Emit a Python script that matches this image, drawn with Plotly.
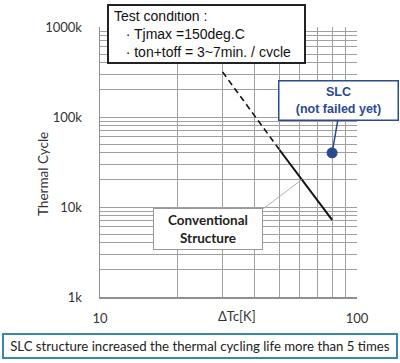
import math
import plotly.graph_objects as go

# ---- data ----
conv_dashed_dtc = [30, 50]
conv_dashed_cycles = [316000, 43000]
conv_solid_dtc = [50, 80]
conv_solid_cycles = [43000, 7200]
slc_dtc = [80]
slc_cycles = [40000]

x_grid_vals = [10, 20, 30, 40, 50, 60, 70, 80, 90, 100]
x_tick_text = ["10", "", "", "", "", "", "", "", "", "100"]
y_grid_vals = [1000 * m * 10 ** d for d in range(3) for m in range(1, 10)] + [1000000]
y_major = {1000: "1k", 10000: "10k", 100000: "100k", 1000000: "1000k"}
y_tick_text = [y_major.get(v, "") for v in y_grid_vals]

X_RANGE = (1, 2)
Y_RANGE = (3, 6)

def px(v):
    return (math.log10(v) - X_RANGE[0]) / (X_RANGE[1] - X_RANGE[0])

def py(v):
    return (math.log10(v) - Y_RANGE[0]) / (Y_RANGE[1] - Y_RANGE[0])

W, H = 400, 363
ML, MR, MT, MB = 100, 43, 27, 66
PW, PH = W - ML - MR, H - MT - MB

def paper_x(pix):
    return (pix - ML) / PW

def paper_y(pix):
    return (H - MB - pix) / PH

fig = go.Figure()
fig.add_trace(go.Scatter(x=conv_dashed_dtc, y=conv_dashed_cycles, mode="lines",
                         line=dict(color="#111111", width=1.6, dash="6px,4px"),
                         hoverinfo="skip", showlegend=False))
fig.add_trace(go.Scatter(x=conv_solid_dtc, y=conv_solid_cycles, mode="lines",
                         line=dict(color="#111111", width=2),
                         hoverinfo="skip", showlegend=False))
fig.add_trace(go.Scatter(x=slc_dtc, y=slc_cycles, mode="markers",
                         marker=dict(color="#2b4a8f", size=11),
                         hoverinfo="skip", showlegend=False))

# point on conventional line at dTc = 61 for connector
conn_dtc = 61
slope = math.log10(conv_solid_cycles[1] / conv_solid_cycles[0]) / math.log10(conv_solid_dtc[1] / conv_solid_dtc[0])
conn_cyc = conv_solid_cycles[0] * (conn_dtc / conv_solid_dtc[0]) ** slope

shapes = [
    dict(type="line", xref="paper", yref="paper",
         x0=paper_x(263), y0=paper_y(209), x1=px(conn_dtc), y1=py(conn_cyc),
         line=dict(color="#b0b0b0", width=1)),
    dict(type="line", xref="paper", yref="paper",
         x0=paper_x(338), y0=paper_y(119), x1=px(slc_dtc[0]), y1=py(slc_cycles[0]),
         line=dict(color="#2b4a8f", width=1.5)),
]

annotations = [
    dict(xref="paper", yref="paper", x=paper_x(107), y=paper_y(4), xanchor="left", yanchor="top",
         text="Test condition :<br>\u00a0\u00a0\u00a0\u00b7 Tjmax =150deg.C<br>\u00a0\u00a0\u00a0\u00b7 ton+toff = 3~7min. / cycle",
         align="left", showarrow=False, font=dict(family="Liberation Sans, Arial", size=14, color="#111111"),
         bgcolor="white", bordercolor="#222222", borderwidth=2, borderpad=5, width=185, height=46),
    dict(xref="paper", yref="paper", x=paper_x(208), y=paper_y(229), xanchor="center", yanchor="middle",
         text="<b>Conventional</b><br><b>Structure</b>", showarrow=False,
         font=dict(family="Lato, Open Sans", size=13.5, color="#222222"),
         bgcolor="white", bordercolor="#999999", borderwidth=1, borderpad=2, width=104, height=36),
    dict(xref="paper", yref="paper", x=paper_x(338), y=paper_y(100), xanchor="center", yanchor="middle",
         text="<b>SLC</b><br><b>(not failed yet)</b>", showarrow=False,
         font=dict(family="Liberation Sans, Arial", size=12.5, color="#2b4a8f"),
         bgcolor="white", bordercolor="#2b4a8f", borderwidth=1.5, borderpad=2, width=114, height=34),
    dict(xref="paper", yref="paper", x=paper_x(200), y=paper_y(346), xanchor="center", yanchor="middle",
         text="SLC structure increased the thermal cycling life more than 5 times", showarrow=False,
         font=dict(family="Lato, Open Sans", size=13.2, color="#222222"),
         bgcolor="white", bordercolor="#3b87a8", borderwidth=2, borderpad=3, width=386, height=16),
    dict(xref="paper", yref="paper", x=paper_x(237), y=paper_y(316), xanchor="center", yanchor="middle",
         text="\u0394Tc[K]", showarrow=False, font=dict(family="Lato, Open Sans", size=13, color="#333333")),
    dict(xref="paper", yref="paper", x=paper_x(43), y=paper_y(174), xanchor="center", yanchor="middle",
         text="Thermal Cycle", textangle=-90, showarrow=False,
         font=dict(family="Lato, Open Sans", size=13.5, color="#333333")),
]

fig.update_layout(
    width=W, height=H, margin=dict(l=ML, r=MR, t=MT, b=MB),
    paper_bgcolor="white", plot_bgcolor="white",
    shapes=shapes, annotations=annotations,
    xaxis=dict(type="log", range=list(X_RANGE), tickmode="array", tickvals=x_grid_vals, ticktext=x_tick_text,
               showgrid=True, gridcolor="#a0a0a0", gridwidth=1, showline=True, linecolor="#909090", linewidth=1.5,
               ticks="", zeroline=False, ticklabelstandoff=9,
               tickfont=dict(family="Lato, Open Sans", size=13, color="#333333")),
    yaxis=dict(type="log", range=list(Y_RANGE), tickmode="array", tickvals=y_grid_vals, ticktext=y_tick_text,
               showgrid=True, gridcolor="#a0a0a0", gridwidth=1, showline=True, linecolor="#909090", linewidth=1.5,
               ticks="", zeroline=False, ticklabelstandoff=14,
               tickfont=dict(family="Lato, Open Sans", size=13, color="#333333")),
)

fig.write_html("out.html", config={"displayModeBar": False, "staticPlot": True},
               post_script="document.body.style.margin='0';document.body.style.overflow='hidden';")
